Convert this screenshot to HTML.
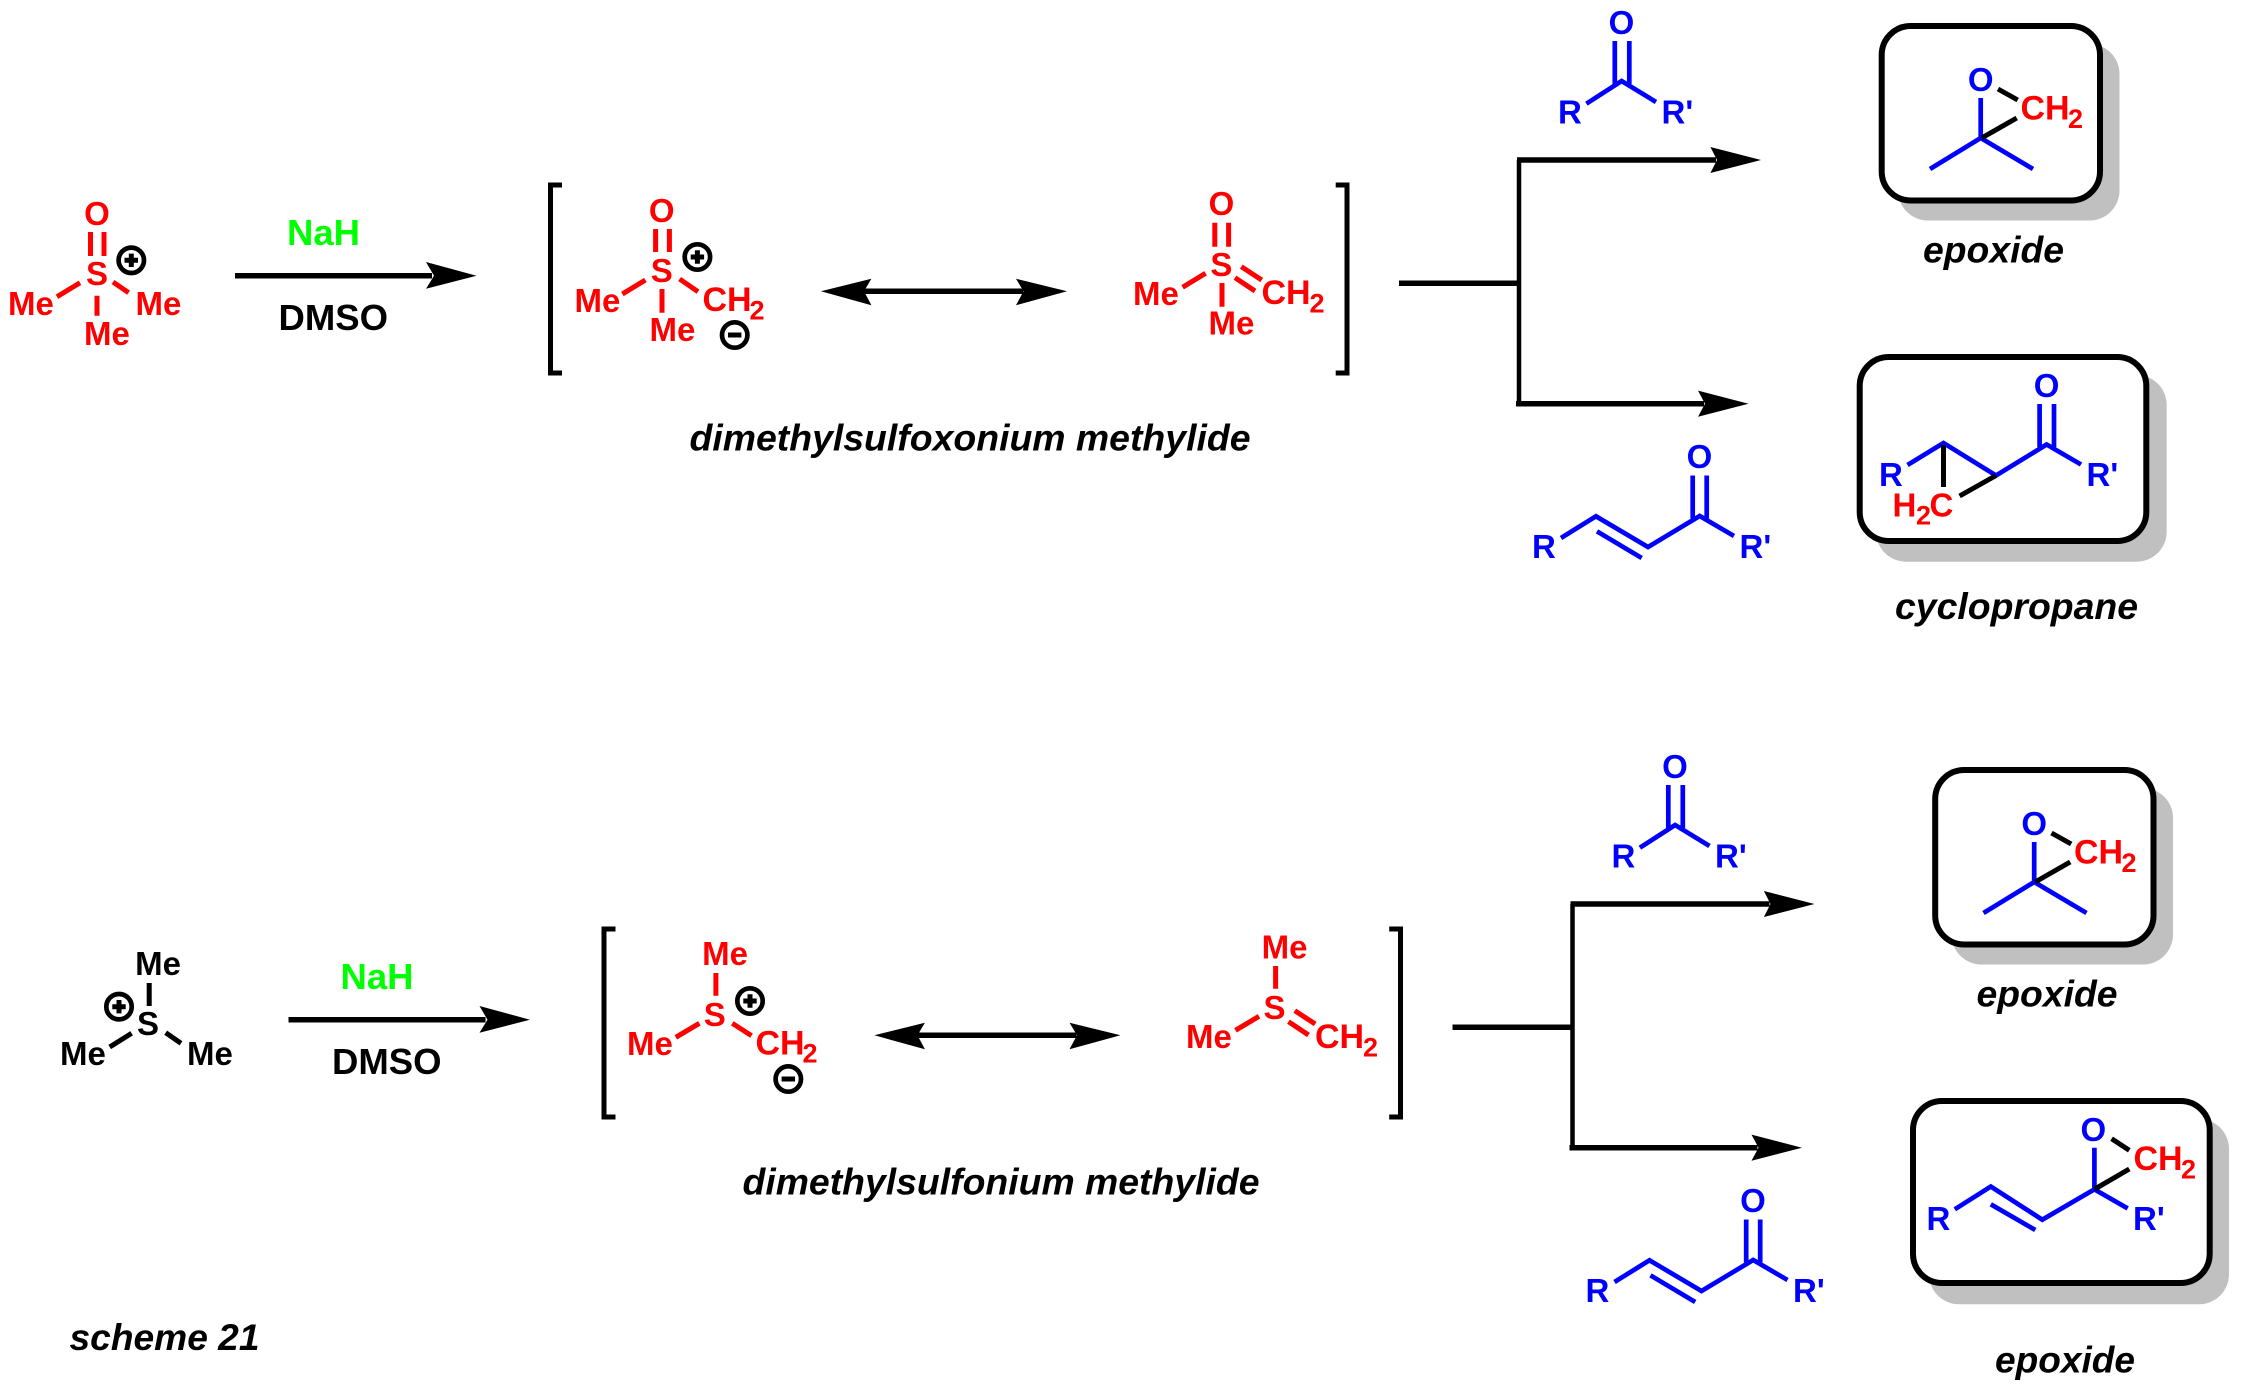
<!DOCTYPE html>
<html><head><meta charset="utf-8"><style>
html,body{margin:0;padding:0;background:#fff}
svg{display:block}
text{font-family:"Liberation Sans",sans-serif;font-weight:bold}
.l{font-size:33px}.c{font-size:34px}.s{font-size:27px}.m{text-anchor:middle}
.i{font-size:37px;font-style:italic}
.r{fill:#f00}.b{fill:#00f}.k{fill:#000}
.br{stroke:#f00;stroke-width:5;fill:none}
.bb{stroke:#00f;stroke-width:4.7;fill:none;stroke-linejoin:miter}
.bk{stroke:#000;stroke-width:5;fill:none}
.lk{stroke:#000;stroke-width:5.5;fill:none}
.lv{stroke:#000;stroke-width:4.5;fill:none}
.cp{fill:none;stroke:#000;stroke-width:4.7}
</style></head><body>
<svg width="2242" height="1391" viewBox="0 0 2242 1391" xmlns="http://www.w3.org/2000/svg">
<rect width="2242" height="1391" fill="#fff"/>

<!-- ======= Scheme 1 left molecule ======= -->
<text class="l m r" x="97" y="225">O</text>
<path class="br" d="M90.500 232V256M104 232V256M57 296.700L80 282.700M113 282L128.600 292.700M97 295.700V315.700"/>
<text class="l m r" x="97" y="285">S</text>
<circle class="cp" cx="131.300" cy="260.300" r="12.700"/><path class="bk" d="M124.500 260.300H138M131.300 253.600V267"/>
<text class="l r" x="8" y="315">Me</text>
<text class="l r" x="135.500" y="315">Me</text>
<text class="l r" x="84" y="345">Me</text>

<text x="287" y="245" font-size="36.500" fill="#00ff00">NaH</text>
<path class="lk" d="M235 275.700H432"/>
<polygon points="476.500,275.700 426,262 434,275.700 426,288.700" fill="#000"/>
<text x="278.500" y="330" font-size="36.500" class="k">DMSO</text>

<path class="bk" d="M562 185H550.500V373H562"/>

<!-- ylide left -->
<text class="l m r" x="661.700" y="222">O</text>
<path class="br" d="M655.600 229V252M669.400 229V252M622.400 294L645.400 280M679.600 279L698 291.700M662 289V312.700"/>
<text class="l m r" x="661.700" y="282">S</text>
<circle class="cp" cx="697.400" cy="257" r="12.700"/><path class="bk" d="M690.700 257H704.100M697.400 250.300V263.700"/>
<text class="l r" x="574.500" y="312">Me</text>
<text class="c r" x="702.500" y="311">CH</text><text class="s r" x="749.500" y="319.500">2</text>
<text class="l r" x="649.500" y="341">Me</text>
<circle class="cp" cx="734.700" cy="335" r="12.700"/><path class="bk" d="M728 335H741.400"/>

<!-- double arrow -->
<path class="lk" d="M864 291.300H1023"/>
<polygon points="820.900,291.300 871.400,278.700 864,291.300 871.400,305.300" fill="#000"/>
<polygon points="1067,291.300 1016,278.700 1023.500,291.300 1016,305.300" fill="#000"/>

<!-- ylide right -->
<text class="l m r" x="1221.400" y="215">O</text>
<path class="br" d="M1214.800 222.700V246.700M1228.600 222.700V246.700M1182.600 287.300L1205.600 273.300M1241.300 266.700L1261.700 280M1235 277.700L1255 291M1222 283V306.700"/>
<text class="l m r" x="1221.400" y="276">S</text>
<text class="l r" x="1133" y="305">Me</text>
<text class="c r" x="1261.500" y="304">CH</text><text class="s r" x="1309.500" y="312.500">2</text>
<text class="l r" x="1208.500" y="334.700">Me</text>

<path class="bk" d="M1335.700 185H1347V373H1335.700"/>
<text class="i" x="689.500" y="450.500" textLength="561" lengthAdjust="spacingAndGlyphs">dimethylsulfoxonium methylide</text>

<!-- branch -->
<path class="lk" d="M1399 283.300H1519"/>
<path class="lv" d="M1519 160V404"/>
<path class="lk" d="M1517 160H1716M1516 403.700H1704"/>
<polygon points="1761,160 1710.400,147 1717,160 1710.400,173" fill="#000"/>
<polygon points="1748.500,403.700 1698,390.600 1705,403.700 1698,416.700" fill="#000"/>

<!-- reactants -->
<text class="l m b" x="1621.500" y="34">O</text>
<path class="bb" d="M1614.800 41V84M1629.300 41V84M1586.400 103.700L1621.600 81L1656 102"/>
<text class="l b" x="1558" y="123.700">R</text><text class="l b" x="1661.500" y="123.700">R'</text>

<text class="l m b" x="1699.500" y="468">O</text>
<path class="bb" d="M1692.700 475.500V518.400M1706.700 475.500V518.400M1734 536L1699.700 516L1648 547L1596 516.300L1561 538M1597 531.400L1641.700 558"/>
<text class="l b" x="1532" y="558">R</text><text class="l b" x="1739.500" y="558">R'</text>

<!-- box 1 -->
<rect x="1898" y="44" width="221.500" height="176.500" rx="30" fill="#c0c0c0"/>
<rect x="1881.700" y="26" width="218.300" height="174.500" rx="29" fill="#fff" stroke="#000" stroke-width="6"/>
<text class="l m b" x="1980.700" y="91">O</text>
<path class="bb" d="M1980.700 98V138M1930 169L1980.700 138L2033 169"/>
<path class="bk" d="M1998 89L2017.700 100M1981.700 138L2016.700 118"/>
<text class="c r" x="2020.500" y="119.500">CH</text><text class="s r" x="2068" y="128">2</text>
<text class="i" x="1923" y="262.500" textLength="141" lengthAdjust="spacingAndGlyphs">epoxide</text>

<!-- box 2 -->
<rect x="1876" y="375" width="290.700" height="186.700" rx="30" fill="#c0c0c0"/>
<rect x="1859.700" y="357" width="286.600" height="184" rx="29" fill="#fff" stroke="#000" stroke-width="6"/>
<text class="l m b" x="2046.600" y="397">O</text>
<path class="bb" d="M2039.600 404V447M2054 404V447M2081 464.500L2046.600 444.500L1996 475.500L1943.500 443L1907.500 465"/>
<text class="l b" x="1879" y="486">R</text><text class="l b" x="2086.500" y="486">R'</text>
<path class="bk" d="M1943.500 445V487M1996 475.500L1959.600 496"/>
<text class="l r" x="1892.500" y="516.300">H</text><text class="s r" x="1916" y="524.500">2</text><text class="l r" x="1929.500" y="516.300">C</text>
<text class="i" x="1895" y="619" textLength="243" lengthAdjust="spacingAndGlyphs">cyclopropane</text>

<!-- ======= Scheme 2 ======= -->
<text class="l m k" x="158" y="975">Me</text>
<path class="bk" d="M149.200 983V1006M109.700 1047L131.600 1033.300M165.700 1032.700L181 1043.300"/>
<text class="l m k" x="148" y="1035">S</text>
<circle class="cp" cx="119" cy="1006.700" r="12.700"/><path class="bk" d="M112.300 1006.700H125.700M119 1000V1013.400"/>
<text class="l k" x="60" y="1065">Me</text>
<text class="l k" x="187" y="1065">Me</text>

<text x="340.500" y="989" font-size="36.500" fill="#00ff00">NaH</text>
<path class="lk" d="M288.500 1019.700H485.500"/>
<polygon points="530,1019.700 479.500,1006 487.500,1019.700 479.500,1032.700" fill="#000"/>
<text x="332" y="1074" font-size="36.500" class="k">DMSO</text>

<path class="bk" d="M615.500 929H604V1117H615.500"/>

<text class="l m r" x="725" y="965">Me</text>
<path class="br" d="M715.900 973V995.700M675.800 1037.300L699.400 1023.300M732.300 1023.300L751.500 1035.700"/>
<text class="l m r" x="714.800" y="1026">S</text>
<circle class="cp" cx="750" cy="1001" r="12.700"/><path class="bk" d="M743.300 1001H756.700M750 994.300V1007.700"/>
<text class="l r" x="627" y="1055">Me</text>
<text class="c r" x="755.500" y="1054.300">CH</text><text class="s r" x="802.500" y="1062.500">2</text>
<circle class="cp" cx="788.300" cy="1079" r="12.700"/><path class="bk" d="M781.600 1079H795"/>

<path class="lk" d="M917.500 1035.300H1076.500"/>
<polygon points="874.400,1035.300 924.900,1022.700 917.500,1035.300 924.900,1049.300" fill="#000"/>
<polygon points="1120.500,1035.300 1069.500,1022.700 1077,1035.300 1069.500,1049.300" fill="#000"/>

<text class="l m r" x="1284.500" y="958.500">Me</text>
<path class="br" d="M1275.600 966V988.700M1235.500 1030.300L1259 1016.300M1294.800 1010.700L1315.200 1024M1288.500 1021.700L1308.500 1035"/>
<text class="l m r" x="1274.500" y="1019">S</text>
<text class="l r" x="1186" y="1048">Me</text>
<text class="c r" x="1315" y="1048">CH</text><text class="s r" x="1363" y="1056.500">2</text>

<path class="bk" d="M1389.200 929H1400.500V1117H1389.200"/>
<text class="i" x="742.500" y="1194.500" textLength="517" lengthAdjust="spacingAndGlyphs">dimethylsulfonium methylide</text>

<path class="lk" d="M1452.500 1027.300H1572.500"/>
<path class="lv" d="M1572.500 904V1148"/>
<path class="lk" d="M1570.500 904H1769.500M1569.500 1147.700H1757.500"/>
<polygon points="1814.500,904 1763.900,891 1770.500,904 1763.900,917" fill="#000"/>
<polygon points="1802,1147.700 1751.500,1134.600 1758.500,1147.700 1751.500,1160.700" fill="#000"/>

<text class="l m b" x="1675" y="778">O</text>
<path class="bb" d="M1668.300 785V828M1682.800 785V828M1639.900 847.700L1675.100 825L1709.500 846"/>
<text class="l b" x="1611.500" y="867.700">R</text><text class="l b" x="1715" y="867.700">R'</text>

<text class="l m b" x="1753" y="1212">O</text>
<path class="bb" d="M1746.200 1219.500V1262.400M1760.200 1219.500V1262.400M1787.500 1280L1753.200 1260L1701.500 1291L1649.500 1260.300L1614.500 1282M1650.500 1275.400L1695.200 1302"/>
<text class="l b" x="1585.500" y="1302">R</text><text class="l b" x="1793" y="1302">R'</text>

<rect x="1951.500" y="788" width="221.500" height="176.500" rx="30" fill="#c0c0c0"/>
<rect x="1935.200" y="770" width="218.300" height="174.500" rx="29" fill="#fff" stroke="#000" stroke-width="6"/>
<text class="l m b" x="2034.200" y="835">O</text>
<path class="bb" d="M2034.200 842V882M1983.500 913L2034.200 882L2086.500 913"/>
<path class="bk" d="M2051.500 833L2071.200 844M2035.200 882L2070.200 862"/>
<text class="c r" x="2074" y="863.500">CH</text><text class="s r" x="2121.500" y="872">2</text>
<text class="i" x="1976.500" y="1006.500" textLength="141" lengthAdjust="spacingAndGlyphs">epoxide</text>

<rect x="1929" y="1119" width="300" height="185.300" rx="30" fill="#c0c0c0"/>
<rect x="1913" y="1101" width="296.700" height="182" rx="29" fill="#fff" stroke="#000" stroke-width="6"/>
<text class="l m b" x="2093.300" y="1141">O</text>
<path class="bb" d="M2094.400 1147.800V1189.300M2127.700 1208.400L2094.400 1189.300L2042.300 1219.700L1990.800 1186.500L1954.800 1209.300M1990.800 1204.300L2035.300 1230"/>
<path class="bk" d="M2111.600 1138.700L2129.300 1150.300M2094.400 1189.300L2129.300 1169"/>
<text class="c r" x="2133.500" y="1170">CH</text><text class="s r" x="2181" y="1178.500">2</text>
<text class="l b" x="1926.500" y="1230">R</text><text class="l b" x="2133" y="1230">R'</text>
<text class="i" x="1995" y="1372.500" textLength="140" lengthAdjust="spacingAndGlyphs">epoxide</text>

<text class="i" x="69.500" y="1350" textLength="190" lengthAdjust="spacingAndGlyphs">scheme 21</text>
</svg>
</body></html>
